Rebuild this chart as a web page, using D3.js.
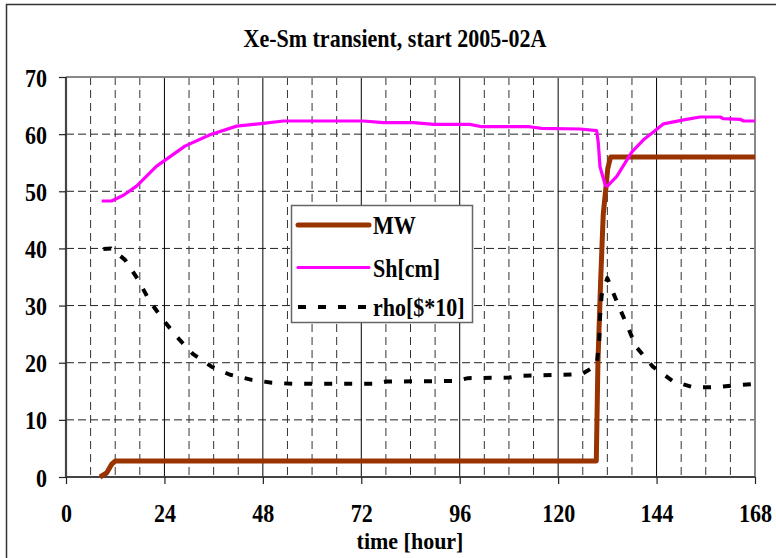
<!DOCTYPE html>
<html>
<head>
<meta charset="utf-8">
<script src="https://cdn.jsdelivr.net/npm/d3@7/dist/d3.min.js"></script>
<style>
  html, body { margin: 0; padding: 0; background: #fff; }
  svg { display: block; }
  text { font-family: "Liberation Serif", "Times New Roman", serif; font-weight: bold; fill: #000; }
</style>
</head>
<body>
<svg id="chart" width="776" height="558"></svg>
<script>
// Power (MW) over time [hour]
const mwTime = [8.3, 9.9, 11.1, 12, 129.3, 129.7, 130.4, 131, 131.7, 132.1, 132.8, 168];
const mwVal  = [0, 0.7, 2.2, 2.8, 2.8, 20, 35, 46, 51, 54, 56, 56];

// Shim rod position Sh[cm]
const shTime = [8.7, 11.1, 14, 17.2, 22.1, 29, 35.1, 41.6, 48.1, 53, 72.5, 77.4, 84.7, 89.6, 98.5, 101.4,
                113, 116, 125.4, 129.4, 129.8, 130.2, 131.5, 132, 134.3, 135.5, 138, 140.8, 143.3, 145.7,
                150.6, 154.6, 159.5, 160.3, 164.4, 165.2, 168];
const shVal  = [48.3, 48.3, 49.3, 50.9, 54.4, 57.9, 59.9, 61.4, 61.9, 62.3, 62.3, 62.0, 62.0, 61.7, 61.7, 61.3,
                61.3, 61.0, 60.9, 60.6, 58.4, 54.3, 51.1, 50.9, 52.6, 54.0, 56.9, 59.0, 60.4, 61.8,
                62.5, 63.0, 63.0, 62.7, 62.6, 62.3, 62.3];

// Reactivity rho[$*10]
const rhoTime = [9.1, 11, 14.4, 17.6, 20.3, 23.7, 27.2, 31, 35.5, 40, 45.3, 50.2, 55.4, 75, 78, 95, 98, 108,
                 111, 125.8, 129.4, 130, 130.2, 130.6, 132, 134.3, 136.6, 139, 143.1, 148.1, 153, 157.9, 162.8, 168];
const rhoVal  = [39.9, 40, 38, 34.5, 30.9, 27.5, 24.4, 21.5, 19.3, 17.9, 17.0, 16.5, 16.3, 16.3, 16.7, 16.8, 17.3, 17.4,
                 17.7, 18.0, 19.6, 23.7, 27.8, 31.8, 34.8, 30.7, 26.9, 22.8, 19.3, 16.7, 15.7, 15.7, 16.0, 16.3];

const xTicks = [0, 24, 48, 72, 96, 120, 144, 168];
const yTicks = [0, 10, 20, 30, 40, 50, 60, 70];
const minorX = d3.range(6, 168, 6).filter(d => d % 24 !== 0);

const titleText = "Xe-Sm transient, start 2005-02A";
const xTitle = "time [hour]";
const seriesNames = ["MW", "Sh[cm]", "rho[$*10]"];

const STRETCH = 1.16; // tall, narrow glyph look

const svg = d3.select("#chart");
const x = d3.scaleLinear().domain([0, 168]).range([66, 755]);
const y = d3.scaleLinear().domain([0, 70]).range([477, 77]);

// place a text by its baseline point and stretch it vertically
function tallText(parent, px, py, str, anchor, stretch) {
  return parent.append("text")
    .attr("transform", `translate(${px},${py}) scale(1,${stretch || STRETCH})`)
    .attr("text-anchor", anchor || "start")
    .attr("font-size", 22)
    .text(str);
}

// outer chart frame
svg.append("rect")
  .attr("x", 6.5).attr("y", 4.5).attr("width", 820).attr("height", 600)
  .attr("fill", "#fff").attr("stroke", "#333").attr("stroke-width", 1.5);

// title
tallText(svg, 395, 47, titleText, "middle");

const grid = svg.append("g");

// horizontal dashed gridlines
grid.selectAll("line.h").data(yTicks.filter(d => d > 0 && d < 70)).join("line")
  .attr("x1", x(0)).attr("x2", x(168))
  .attr("y1", d => y(d)).attr("y2", d => y(d))
  .attr("stroke", "#222").attr("stroke-width", 1)
  .attr("stroke-dasharray", "8,4");

// minor vertical dashed gridlines every 6 hours
grid.selectAll("line.vm").data(minorX).join("line")
  .attr("x1", d => x(d)).attr("x2", d => x(d))
  .attr("y1", y(70)).attr("y2", y(0))
  .attr("stroke", "#333").attr("stroke-width", 1)
  .attr("stroke-dasharray", "8,5");

// solid verticals every 24 hours
grid.selectAll("line.v").data(xTicks.filter(d => d > 0 && d < 168)).join("line")
  .attr("x1", d => x(d)).attr("x2", d => x(d))
  .attr("y1", y(70)).attr("y2", y(0))
  .attr("stroke", "#000").attr("stroke-width", 1);

// plot border: top and right
grid.append("line")
  .attr("x1", x(0)).attr("x2", x(168)).attr("y1", y(70)).attr("y2", y(70))
  .attr("stroke", "#888").attr("stroke-width", 2);
grid.append("line")
  .attr("x1", x(168)).attr("x2", x(168)).attr("y1", y(70)).attr("y2", y(0))
  .attr("stroke", "#888").attr("stroke-width", 2);

// axes
const yAxis = svg.append("g")
  .attr("transform", `translate(${x(0)},0)`)
  .call(d3.axisLeft(y).tickValues(yTicks).tickSize(7).tickFormat(d3.format("d")));
const xAxis = svg.append("g")
  .attr("transform", `translate(0,${y(0)})`)
  .call(d3.axisBottom(x).tickValues(xTicks).tickSize(7).tickFormat(d3.format("d")));

[yAxis, xAxis].forEach(a => {
  a.select(".domain").attr("stroke", "#444").attr("stroke-width", 2.2);
  a.selectAll(".tick line").attr("stroke", "#222").attr("stroke-width", 1.2);
  a.selectAll("text")
    .attr("font-size", 22)
    .attr("font-family", "'Liberation Serif', 'Times New Roman', serif")
    .attr("font-weight", "bold")
    .attr("fill", "#000")
    .attr("x", null).attr("y", null).attr("dy", null);
});
yAxis.select(".domain").attr("d", `M0,${y(70)}V${y(0)}`);
xAxis.select(".domain").attr("d", `M${x(0)},0H${x(168)}`);
// tick labels: baseline positions relative to each tick, stretched vertically
yAxis.selectAll(".tick text").attr("transform", `translate(-19,9) scale(1,${STRETCH})`);
xAxis.selectAll(".tick text").attr("transform", `translate(0,45) scale(1,${STRETCH})`);

// x-axis title
tallText(svg, 410, 549, xTitle, "middle", 1.05);

// series
const line = d3.line().x(d => x(d[0])).y(d => y(d[1]));
const mwData = mwTime.map((t, i) => [t, mwVal[i]]);
const shData = shTime.map((t, i) => [t, shVal[i]]);
const rhoData = rhoTime.map((t, i) => [t, rhoVal[i]]);

const styles = [
  { color: "#993300", width: 5, dash: null },
  { color: "#FF00FF", width: 3.2, dash: null },
  { color: "#000000", width: 4, dash: "8,12" }
];

[mwData, shData, rhoData].forEach((data, i) => {
  svg.append("path")
    .datum(data)
    .attr("d", line)
    .attr("fill", "none")
    .attr("stroke", styles[i].color)
    .attr("stroke-width", styles[i].width)
    .attr("stroke-linejoin", "round")
    .attr("stroke-dasharray", styles[i].dash);
});

// legend
const legend = svg.append("g");
legend.append("rect")
  .attr("x", 291.5).attr("y", 205.5).attr("width", 181).attr("height", 117)
  .attr("fill", "#fff").attr("stroke", "#666").attr("stroke-width", 1.5);
const legendY = [225, 267.5, 307];
seriesNames.forEach((name, i) => {
  legend.append("line")
    .attr("x1", 298).attr("x2", 369)
    .attr("y1", legendY[i]).attr("y2", legendY[i])
    .attr("stroke", styles[i].color)
    .attr("stroke-width", styles[i].width)
    .attr("stroke-linecap", styles[i].dash ? "butt" : "round")
    .attr("stroke-dasharray", styles[i].dash);
  tallText(legend, 373, legendY[i] + 9, name);
});
</script>
</body>
</html>
